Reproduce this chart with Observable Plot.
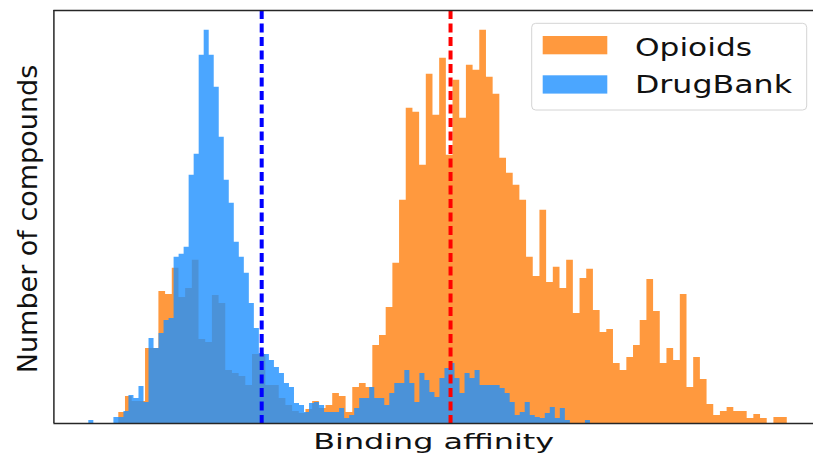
<!DOCTYPE html>
<html><head><meta charset="utf-8">
<script src="https://cdn.jsdelivr.net/npm/d3@7"></script>
<script src="https://cdn.jsdelivr.net/npm/@observablehq/plot@0.6"></script>
<style>
html,body{margin:0;padding:0;background:#fff;overflow:hidden;}
#wrap{position:relative;width:813px;height:457px;}
#wrap svg{display:block;}
#legend{position:absolute;left:0;top:0;}
</style></head><body><div id="wrap"></div>
<script>
// ---- data ----
const seriesNames = ["Opioids", "DrugBank"];
const seriesColors = ["#ff7f0e", "#1e90ff"];
const meanColors = ["#ff0000", "#0000ff"];
const opioidRange = [0.65, 7.34];     // histogram range (100 bins)
const drugbankRange = [0.35, 5.37];   // histogram range (100 bins)
const opioidCounts = [11,27,22,22,75,75,132,129,155,126,
  135,163,84,81,128,120,53,50,47,38,
  69,69,38,38,25,18,12,10,14,22,
  15,18,30,27,11,36,40,36,78,88,
  116,160,223,315,311,258,349,308,365,268,
  343,305,358,353,393,346,329,265,250,238,
  223,166,147,213,141,156,135,163,110,145,
  154,113,91,94,60,53,66,78,103,144,
  112,60,75,63,129,36,66,44,19,8,
  12,16,12,12,5,9,5,0,6,6];
const drugbankCounts = [3,0,0,0,0,6,6,12,28,25,
  37,21,85,75,90,103,105,166,169,176,
  248,269,368,393,368,336,286,243,220,181,
  166,150,120,95,70,69,63,56,50,40,
  36,20,18,11,20,21,18,11,11,11,
  15,5,8,15,25,25,36,25,25,18,
  30,40,40,53,40,21,50,43,31,26,
  45,55,60,45,30,50,45,53,38,38,
  38,38,35,30,21,8,11,21,8,6,
  5,10,16,5,15,3,0,0,0,3];
const opioidMean = 3.97;
const drugbankMean = 2.08;
const xLabel = "Binding affinity";
const yLabel = "Number of compounds";

// ---- build ----
function steps(counts, [lo, hi]) {
  const w = (hi - lo) / counts.length;
  const pts = counts.map((c, i) => ({x: lo + i * w, y: c}));
  pts.push({x: hi, y: counts[counts.length - 1]});
  return pts;
}
const opPts = steps(opioidCounts, opioidRange);
const dbPts = steps(drugbankCounts, drugbankRange);
const dMin = Math.min(opioidRange[0], drugbankRange[0]);
const dMax = Math.max(opioidRange[1], drugbankRange[1]);
const pad = 0.05 * (dMax - dMin);
const xDomain = [dMin - pad, dMax + pad];
const yMax = 1.05 * Math.max(d3.max(opioidCounts), d3.max(drugbankCounts));

const spine = {stroke: "#262626", strokeWidth: 1.5};
const chart = Plot.plot({
  width: 813, height: 457,
  marginLeft: 53.4, marginRight: 0, marginTop: 10, marginBottom: 34,
  style: {fontFamily: "DejaVu Sans", background: "#fff"},
  x: {domain: xDomain, range: [53.4, 821.7], axis: null},
  y: {domain: [0, yMax], axis: null},
  marks: [
    Plot.areaY(opPts, {x: "x", y: "y", curve: "step-after", fill: seriesColors[0], fillOpacity: 0.8}),
    Plot.areaY(dbPts, {x: "x", y: "y", curve: "step-after", fill: seriesColors[1], fillOpacity: 0.8}),
    Plot.ruleX([drugbankMean], {stroke: meanColors[1], strokeWidth: 4, strokeDasharray: "9,4.5"}),
    Plot.ruleX([opioidMean], {stroke: meanColors[0], strokeWidth: 4, strokeDasharray: "9,4.5"}),
    Plot.ruleY([0, yMax], spine),
    Plot.ruleX([xDomain[0]], spine),
    Plot.text([xLabel], {text: d => d, frameAnchor: "bottom", dy: 25, fontSize: 22, fill: "#111"}),
    Plot.text([yLabel], {text: d => d, frameAnchor: "left", textAnchor: "middle", rotate: -90, dx: -26, dy: 2, fontSize: 27, fill: "#111"})
  ]
});
document.getElementById("wrap").appendChild(chart);
d3.select(chart).selectAll("text").filter(function(){ return this.textContent === xLabel; })
  .attr("textLength", 241).attr("lengthAdjust", "spacingAndGlyphs");

// ---- legend ----
const lg = d3.select("#wrap").append("svg").attr("id", "legend")
  .attr("width", 813).attr("height", 457)
  .style("font-family", "DejaVu Sans");
lg.append("rect").attr("x", 531.7).attr("y", 23.3).attr("width", 275).attr("height", 86.7)
  .attr("rx", 4).attr("fill", "#fff").attr("fill-opacity", 0.8)
  .attr("stroke", "#d4d4d4").attr("stroke-width", 1);
const rows = [{y: 36, base: 55.7, len: 117}, {y: 75.3, base: 93.3, len: 157}];
seriesNames.forEach((name, i) => {
  lg.append("rect").attr("x", 542.7).attr("y", rows[i].y).attr("width", 64.6).attr("height", 18.3)
    .attr("fill", seriesColors[i]).attr("fill-opacity", 0.8);
  lg.append("text").attr("x", 635).attr("y", rows[i].base).attr("font-size", 25).attr("fill", "#111")
    .attr("textLength", rows[i].len).attr("lengthAdjust", "spacingAndGlyphs").text(name);
});
</script></body></html>
